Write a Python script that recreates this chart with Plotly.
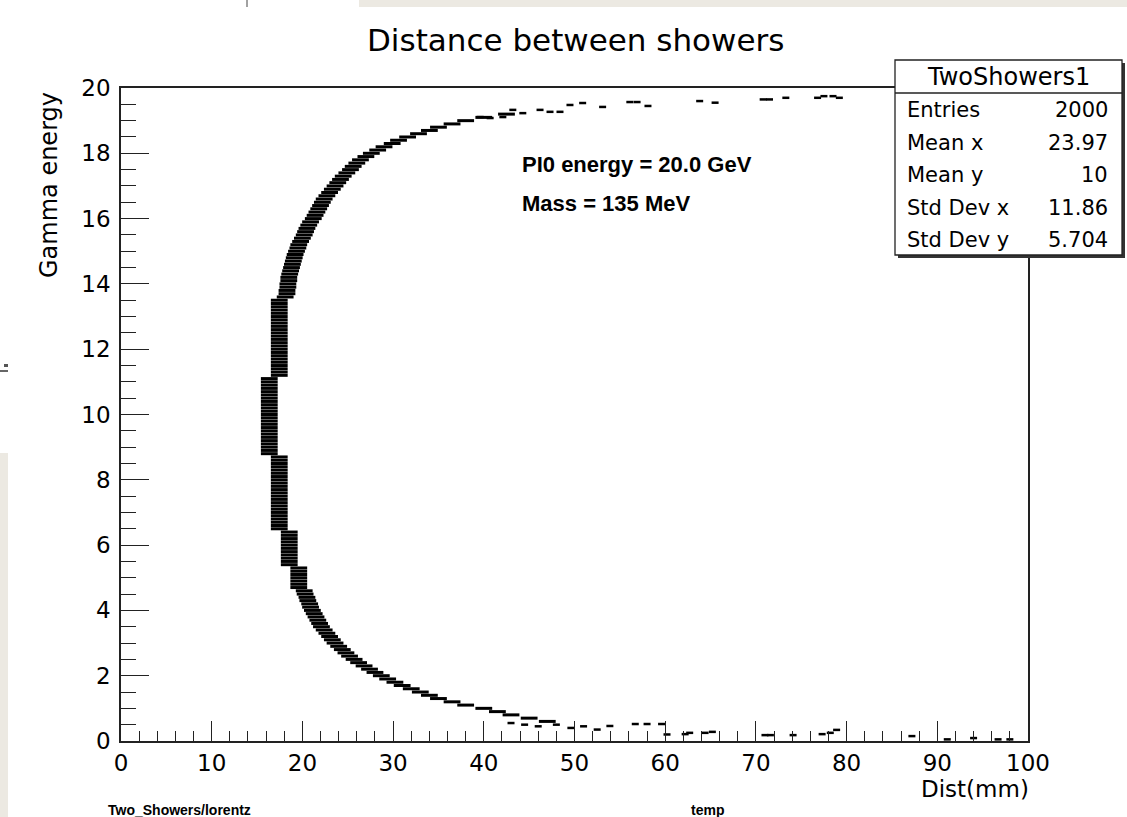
import plotly.graph_objects as go

# ---------------- data ----------------
band_energy = [0.6, 0.7, 0.8, 0.9, 1.0, 1.1, 1.2, 1.3, 1.4, 1.5, 1.6, 1.7, 1.8, 1.9,
               2.0, 2.1, 2.2, 2.3, 2.4, 2.5, 2.6, 2.7, 2.8, 2.9, 3.0, 3.1, 3.2, 3.3, 3.4, 3.5,
               3.6, 3.7, 3.8, 3.9, 4.0, 4.1, 4.2, 4.3, 4.4, 4.5, 4.6, 4.7, 4.8, 4.9, 5.0, 5.1,
               5.2, 5.3, 5.4, 5.5, 5.6, 5.7, 5.8, 5.9, 6.0, 6.1, 6.2, 6.3, 6.4, 6.5, 6.6, 6.7,
               6.8, 6.9, 7.0, 7.1, 7.2, 7.3, 7.4, 7.5, 7.6, 7.7, 7.8, 7.9, 8.0, 8.1, 8.2, 8.3,
               8.4, 8.5, 8.6, 8.7, 8.8, 8.9, 9.0, 9.1, 9.2, 9.3, 9.4, 9.5, 9.6, 9.7, 9.8, 9.9,
               10.0, 10.1, 10.2, 10.3, 10.4, 10.5, 10.6, 10.7, 10.8, 10.9, 11.0, 11.1, 11.2,
               11.3, 11.4, 11.5, 11.6, 11.7, 11.8, 11.9, 12.0, 12.1, 12.2, 12.3, 12.4, 12.5,
               12.6, 12.7, 12.8, 12.9, 13.0, 13.1, 13.2, 13.3, 13.4, 13.5, 13.6, 13.7, 13.8,
               13.9, 14.0, 14.1, 14.2, 14.3, 14.4, 14.5, 14.6, 14.7, 14.8, 14.9, 15.0, 15.1,
               15.2, 15.3, 15.4, 15.5, 15.6, 15.7, 15.8, 15.9, 16.0, 16.1, 16.2, 16.3, 16.4,
               16.5, 16.6, 16.7, 16.8, 16.9, 17.0, 17.1, 17.2, 17.3, 17.4, 17.5, 17.6, 17.7,
               17.8, 17.9, 18.0, 18.1, 18.2, 18.3, 18.4, 18.5, 18.6, 18.7, 18.8, 18.9, 19.0,
               19.1, 19.2]
band_dist = [47.0, 45.0, 43.0, 41.5,
             40.0, 38.0, 36.5, 35.0, 34.0, 33.0, 32.0, 31.0, 30.2, 29.4,
             28.7, 28.0, 27.4, 26.8, 26.2, 25.7, 25.2, 24.8, 24.4, 24.0,
             23.6, 23.3, 23.0, 22.7, 22.4, 22.1, 21.9, 21.7, 21.5, 21.3,
             21.1, 20.9, 20.8, 20.6, 20.5, 20.3, 20.2, 19.6, 19.6, 19.6,
             19.6, 19.6, 19.6, 19.6, 18.55, 18.55, 18.55, 18.55, 18.55, 18.55,
             18.55, 18.55, 18.55, 18.55, 18.55, 17.45, 17.45, 17.45, 17.45, 17.45,
             17.45, 17.45, 17.45, 17.45, 17.45, 17.45, 17.45, 17.45, 17.45, 17.45,
             17.45, 17.45, 17.45, 17.45, 17.45, 17.45, 17.45, 17.45, 16.35, 16.35,
             16.35, 16.35, 16.35, 16.35, 16.35, 16.35, 16.35, 16.35, 16.35, 16.35,
             16.35, 16.35, 16.35, 16.35, 16.35, 16.35, 16.35, 16.35, 16.35, 16.35,
             16.35, 16.35, 17.45, 17.45, 17.45, 17.45, 17.45, 17.45, 17.45, 17.45,
             17.45, 17.45, 17.45, 17.45, 17.45, 17.45, 17.45, 17.45, 17.45, 17.45,
             17.45, 17.45, 17.45, 17.45, 17.45, 17.45, 18.1, 18.3, 18.3, 18.4,
             18.4, 18.5, 18.5, 18.6, 18.7, 18.8, 18.9, 19.0, 19.1, 19.2,
             19.35, 19.5, 19.6, 19.8, 20.0, 20.2, 20.35, 20.5, 20.7, 20.9,
             21.2, 21.4, 21.6, 21.8, 22.0, 22.2, 22.4, 22.7, 23.0, 23.3,
             23.6, 23.9, 24.2, 24.5, 24.9, 25.3, 25.6, 26.0, 26.4, 27.0,
             27.6, 28.3, 29.0, 29.9, 30.6, 31.6, 32.8, 34.0, 35.0, 36.5,
             38.0, 40.0, 42.5]

tail_dist = [39.6, 40.7, 42.1, 43.2, 44.3, 46.2, 47.3, 48.4, 49.5, 50.9, 53.1, 56.1, 56.9,
             58.1, 63.8, 65.5, 70.8, 71.5, 73.3, 76.8, 77.5, 78.5, 79.2,
             43.0, 44.5, 46.0, 48.0, 49.6, 51.0, 52.5, 53.9, 56.7, 58.0, 59.6, 60.2,
             62.2, 62.7, 64.4, 65.2, 71.0, 71.6, 74.1, 77.3, 78.2, 78.9, 87.2, 91.1,
             94.0, 96.7, 98.0]
tail_energy = [19.11, 19.08, 19.11, 19.33, 19.23, 19.33, 19.27, 19.27, 19.48, 19.54, 19.42,
               19.57, 19.57, 19.45, 19.6, 19.55, 19.65, 19.65, 19.7, 19.7, 19.75, 19.75, 19.7,
               0.55, 0.5, 0.45, 0.5, 0.4, 0.45, 0.35, 0.46, 0.52, 0.52, 0.52, 0.2,
               0.21, 0.25, 0.25, 0.28, 0.18, 0.18, 0.18, 0.21, 0.25, 0.34, 0.15, 0.05,
               0.09, 0.05, 0.05]

stat_labels = ["Entries", "Mean x", "Mean y", "Std Dev x", "Std Dev y"]
stat_values = ["2000", "23.97", "10", "11.86", "5.704"]

x_ticks = [0, 10, 20, 30, 40, 50, 60, 70, 80, 90, 100]
y_ticks = [0, 2, 4, 6, 8, 10, 12, 14, 16, 18, 20]

# ---------------- layout geometry (pixels) ----------------
W, H = 1127, 817
L, R, T, B = 121, 1028, 88, 741
PW, PH = R - L, B - T


def px(xp):
    return (xp - L) / PW


def py(yp):
    return (B - yp) / PH


FONT = "DejaVu Sans"
BEIGE = "#ECE9E2"

fig = go.Figure()
fig.add_trace(go.Scatter(
    x=band_dist, y=band_energy, mode="markers", showlegend=False, hoverinfo="skip",
    marker=dict(symbol="line-ew", size=12, color="black", line=dict(width=3, color="black"))))
fig.add_trace(go.Scatter(
    x=tail_dist, y=tail_energy, mode="markers", showlegend=False, hoverinfo="skip",
    marker=dict(symbol="line-ew", size=5, color="black", line=dict(width=2.5, color="black"))))

axis_common = dict(showgrid=False, zeroline=False, showline=True, mirror=True,
                   linecolor="#222", linewidth=1.5, ticks="inside", tickcolor="#222",
                   tickwidth=1.3, tickfont=dict(family=FONT, size=23, color="black"))
fig.update_xaxes(range=[0, 100], tickvals=x_ticks, ticklen=20, ticklabelstandoff=1,
                 minor=dict(ticks="inside", dtick=2, ticklen=10, tickcolor="#222", tickwidth=1.3),
                 **axis_common)
fig.update_yaxes(range=[0, 20], tickvals=y_ticks, ticklen=28, ticklabelstandoff=4,
                 minor=dict(ticks="inside", dtick=0.5, ticklen=15, tickcolor="#222", tickwidth=1.3),
                 **axis_common)

shapes = [
    # beige background strips of the screenshot
    dict(type="rect", xref="paper", yref="paper", x0=px(359), x1=px(W), y0=py(0), y1=py(7),
         fillcolor=BEIGE, line=dict(width=0), layer="above"),
    dict(type="rect", xref="paper", yref="paper", x0=px(0), x1=px(8), y0=py(453), y1=py(H),
         fillcolor=BEIGE, line=dict(width=0), layer="above"),
    dict(type="line", xref="paper", yref="paper", x0=px(247), x1=px(247), y0=py(0), y1=py(7),
         line=dict(color="#444", width=1), layer="above"),
    dict(type="rect", xref="paper", yref="paper", x0=px(4), x1=px(8), y0=py(364), y1=py(367),
         fillcolor="#555", line=dict(width=0), layer="above"),
    dict(type="rect", xref="paper", yref="paper", x0=px(0), x1=px(8), y0=py(370), y1=py(372),
         fillcolor="#666", line=dict(width=0), layer="above"),
    # stats box shadow + box
    dict(type="rect", xref="paper", yref="paper", x0=px(898), x1=px(1125), y0=py(63), y1=py(258),
         fillcolor="#333", line=dict(width=0), layer="above"),
    dict(type="rect", xref="paper", yref="paper", x0=px(895), x1=px(1122), y0=py(60), y1=py(255),
         fillcolor="white", line=dict(color="#222", width=1.3), layer="above"),
    dict(type="line", xref="paper", yref="paper", x0=px(895), x1=px(1122), y0=py(93), y1=py(93),
         line=dict(color="#222", width=1.3), layer="above"),
]

ann = [
    dict(text="Distance between showers", x=px(575), y=py(40), xanchor="center", yanchor="middle",
         font=dict(family=FONT, size=31, color="black")),
    dict(text="Gamma energy", x=px(49), y=py(90), xanchor="center", yanchor="top", textangle=-90,
         font=dict(family=FONT, size=24, color="black")),
    dict(text="Dist(mm)", x=px(1031), y=py(789), xanchor="right", yanchor="middle",
         font=dict(family=FONT, size=23, color="black")),
    dict(text="<b>PI0 energy = 20.0 GeV</b>", x=px(520), y=py(164), xanchor="left", yanchor="middle",
         font=dict(family="Liberation Sans", size=22, color="black")),
    dict(text="<b>Mass = 135 MeV</b>", x=px(520), y=py(203), xanchor="left", yanchor="middle",
         font=dict(family="Liberation Sans", size=22, color="black")),
    dict(text="<b>Two_Showers/lorentz</b>", x=px(106), y=py(810), xanchor="left", yanchor="middle",
         font=dict(family="Liberation Sans", size=14, color="black")),
    dict(text="<b>temp</b>", x=px(689), y=py(810), xanchor="left", yanchor="middle",
         font=dict(family="Liberation Sans", size=14, color="black")),
    dict(text="TwoShowers1", x=px(1008), y=py(77), xanchor="center", yanchor="middle",
         font=dict(family=FONT, size=24, color="black")),
]
row_y = [110, 143, 175, 208, 240]
for lab, val, ry in zip(stat_labels, stat_values, row_y):
    ann.append(dict(text=lab, x=px(905), y=py(ry), xanchor="left", yanchor="middle",
                    font=dict(family=FONT, size=21, color="black")))
    ann.append(dict(text=val, x=px(1110), y=py(ry), xanchor="right", yanchor="middle",
                    font=dict(family=FONT, size=21, color="black")))
for a in ann:
    a.update(xref="paper", yref="paper", showarrow=False)

fig.update_layout(width=W, height=H, margin=dict(l=L, r=W - R, t=T, b=H - B),
                  paper_bgcolor="white", plot_bgcolor="white", showlegend=False,
                  shapes=shapes, annotations=ann)
fig.write_html("out.html")
